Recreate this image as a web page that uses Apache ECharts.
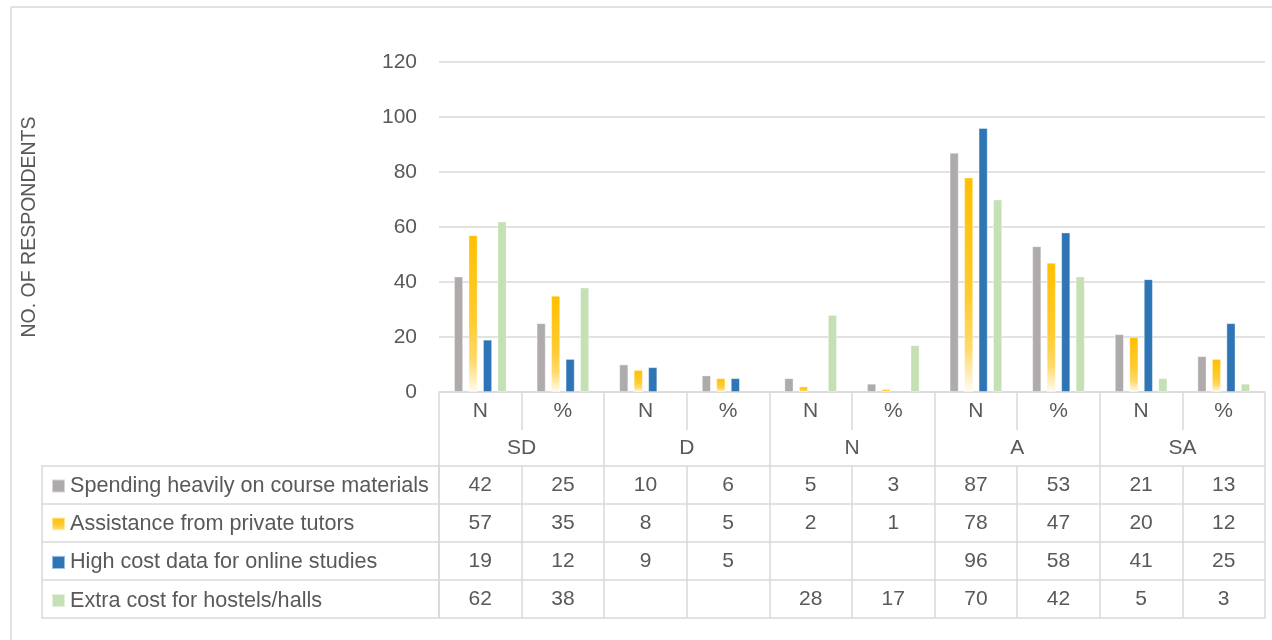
<!DOCTYPE html>
<html>
<head>
<meta charset="utf-8">
<script src="https://cdn.jsdelivr.net/npm/echarts@6/dist/echarts.min.js"></script>
<style>
  html, body { margin: 0; padding: 0; background: #fff; }
  #chart { width: 1272px; height: 640px; }
</style>
</head>
<body>
<div id="chart"></div>
<script>
// sub-categories (N / %) and the response groups under them
const subLabels = ['N', '%', 'N', '%', 'N', '%', 'N', '%', 'N', '%'];
const groups = ['SD', 'D', 'N', 'A', 'SA'];
const seriesNames = [
  'Spending heavily on course materials',
  'Assistance from private tutors',
  'High cost data for online studies',
  'Extra cost for hostels/halls'
];
const spending = [42, 25, 10, 6, 5, 3, 87, 53, 21, 13];
const tutors = [57, 35, 8, 5, 2, 1, 78, 47, 20, 12];
const onlineData = [19, 12, 9, 5, null, null, 96, 58, 41, 25];
const hostels = [62, 38, null, null, 28, 17, 70, 42, 5, 3];
const yTicks = { min: 0, max: 120, interval: 20 };

const chart = echarts.init(document.getElementById('chart'));

const txt = '#595959';
const line = '#D9D9D9';
const font = 'Liberation Sans';
const fs = 21;
const rowH = 38;
const headH = 74;

// 颜色
const colors = [
  '#AEABAA',
  new echarts.graphic.LinearGradient(0, 0, 0, 1, [
    { offset: 0, color: '#FFC000' },
    { offset: 0.55, color: '#FFCB2E' },
    { offset: 0.8, color: '#FFDA6A' },
    { offset: 1, color: '#FFFCF2' }
  ]),
  '#2E75B6',
  '#C5E0B4'
];
const values = [spending, tutors, onlineData, hostels];

// data table rows as extra x axes below the grid
const rowAxes = values.map((vals, i) => ({
  type: 'category',
  gridIndex: 0,
  position: 'bottom',
  offset: headH + rowH * i,
  data: vals.map(v => (v == null ? '' : String(v))),
  axisLine: { show: true, lineStyle: { color: line, width: 1.5 } },
  axisTick: { show: true, length: rowH, lineStyle: { color: line, width: 1.5 } },
  axisLabel: { color: txt, fontSize: fs, fontFamily: font, margin: 9, lineHeight: 20, interval: 0 }
}));

const option = {
  animation: false,
  textStyle: { fontFamily: font },
  color: colors,
  grid: { left: 439, right: 7, top: 62, bottom: 248 },
  legend: {
    data: seriesNames,
    orient: 'vertical',
    left: 46,
    top: 470,
    itemWidth: 13,
    itemHeight: 13,
    itemGap: 16.2,
    itemTextGap: 7,
    icon: 'rect',
    textStyle: { color: txt, fontSize: 21.6, fontFamily: font, lineHeight: 22 },
    selectedMode: false
  },
  xAxis: [
    {
      type: 'category',
      gridIndex: 0,
      data: subLabels,
      axisLine: { show: true, lineStyle: { color: line, width: 1.5 } },
      axisTick: { show: true, length: rowH, lineStyle: { color: line, width: 1.5 } },
      axisLabel: { color: txt, fontSize: fs, fontFamily: font, margin: 9, lineHeight: 20, interval: 0 }
    },
    {
      type: 'category',
      gridIndex: 0,
      position: 'bottom',
      offset: 0,
      data: groups,
      axisLine: { show: false },
      axisTick: { show: true, length: headH, lineStyle: { color: line, width: 1.5 } },
      axisLabel: { color: txt, fontSize: fs, fontFamily: font, margin: rowH + 8, lineHeight: 20, interval: 0 }
    },
    ...rowAxes,
    {
      // bottom border of the table
      type: 'category',
      gridIndex: 0,
      position: 'bottom',
      offset: headH + rowH * 4,
      data: subLabels,
      axisLine: { show: true, lineStyle: { color: line, width: 1.5 } },
      axisTick: { show: false },
      axisLabel: { show: false }
    }
  ],
  yAxis: {
    type: 'value',
    min: yTicks.min,
    max: yTicks.max,
    interval: yTicks.interval,
    name: 'NO. OF RESPONDENTS',
    nameLocation: 'middle',
    nameRotate: 90,
    nameGap: 399,
    nameTextStyle: { color: txt, fontSize: 19.5, fontFamily: font },
    axisLine: { show: false },
    axisTick: { show: false },
    axisLabel: { color: txt, fontSize: fs, fontFamily: font, margin: 22 },
    splitLine: { lineStyle: { color: line, width: 1.5 } }
  },
  series: values.map((vals, i) => ({
    name: seriesNames[i],
    type: 'bar',
    xAxisIndex: 0,
    data: vals,
    barWidth: 9,
    barGap: '61%',
    itemStyle: { color: colors[i], borderColor: 'rgba(255,255,255,0.5)', borderWidth: 0.8 }
  })),
  graphic: [
    // chart frame (top and left edges)
    { type: 'line', shape: { x1: 11, y1: 7, x2: 1272, y2: 7 }, style: { stroke: line, lineWidth: 1.5 } },
    { type: 'line', shape: { x1: 11, y1: 7, x2: 11, y2: 640 }, style: { stroke: line, lineWidth: 1.5 } },
    // legend cell borders left of the table
    { type: 'rect', shape: { x: 42, y: 466, width: 397, height: rowH * 4 }, style: { fill: 'none', stroke: line, lineWidth: 1.5 } },
    { type: 'line', shape: { x1: 42, y1: 466 + rowH, x2: 439, y2: 466 + rowH }, style: { stroke: line, lineWidth: 1.5 } },
    { type: 'line', shape: { x1: 42, y1: 466 + rowH * 2, x2: 439, y2: 466 + rowH * 2 }, style: { stroke: line, lineWidth: 1.5 } },
    { type: 'line', shape: { x1: 42, y1: 466 + rowH * 3, x2: 439, y2: 466 + rowH * 3 }, style: { stroke: line, lineWidth: 1.5 } }
  ]
};

chart.setOption(option);
</script>
</body>
</html>
